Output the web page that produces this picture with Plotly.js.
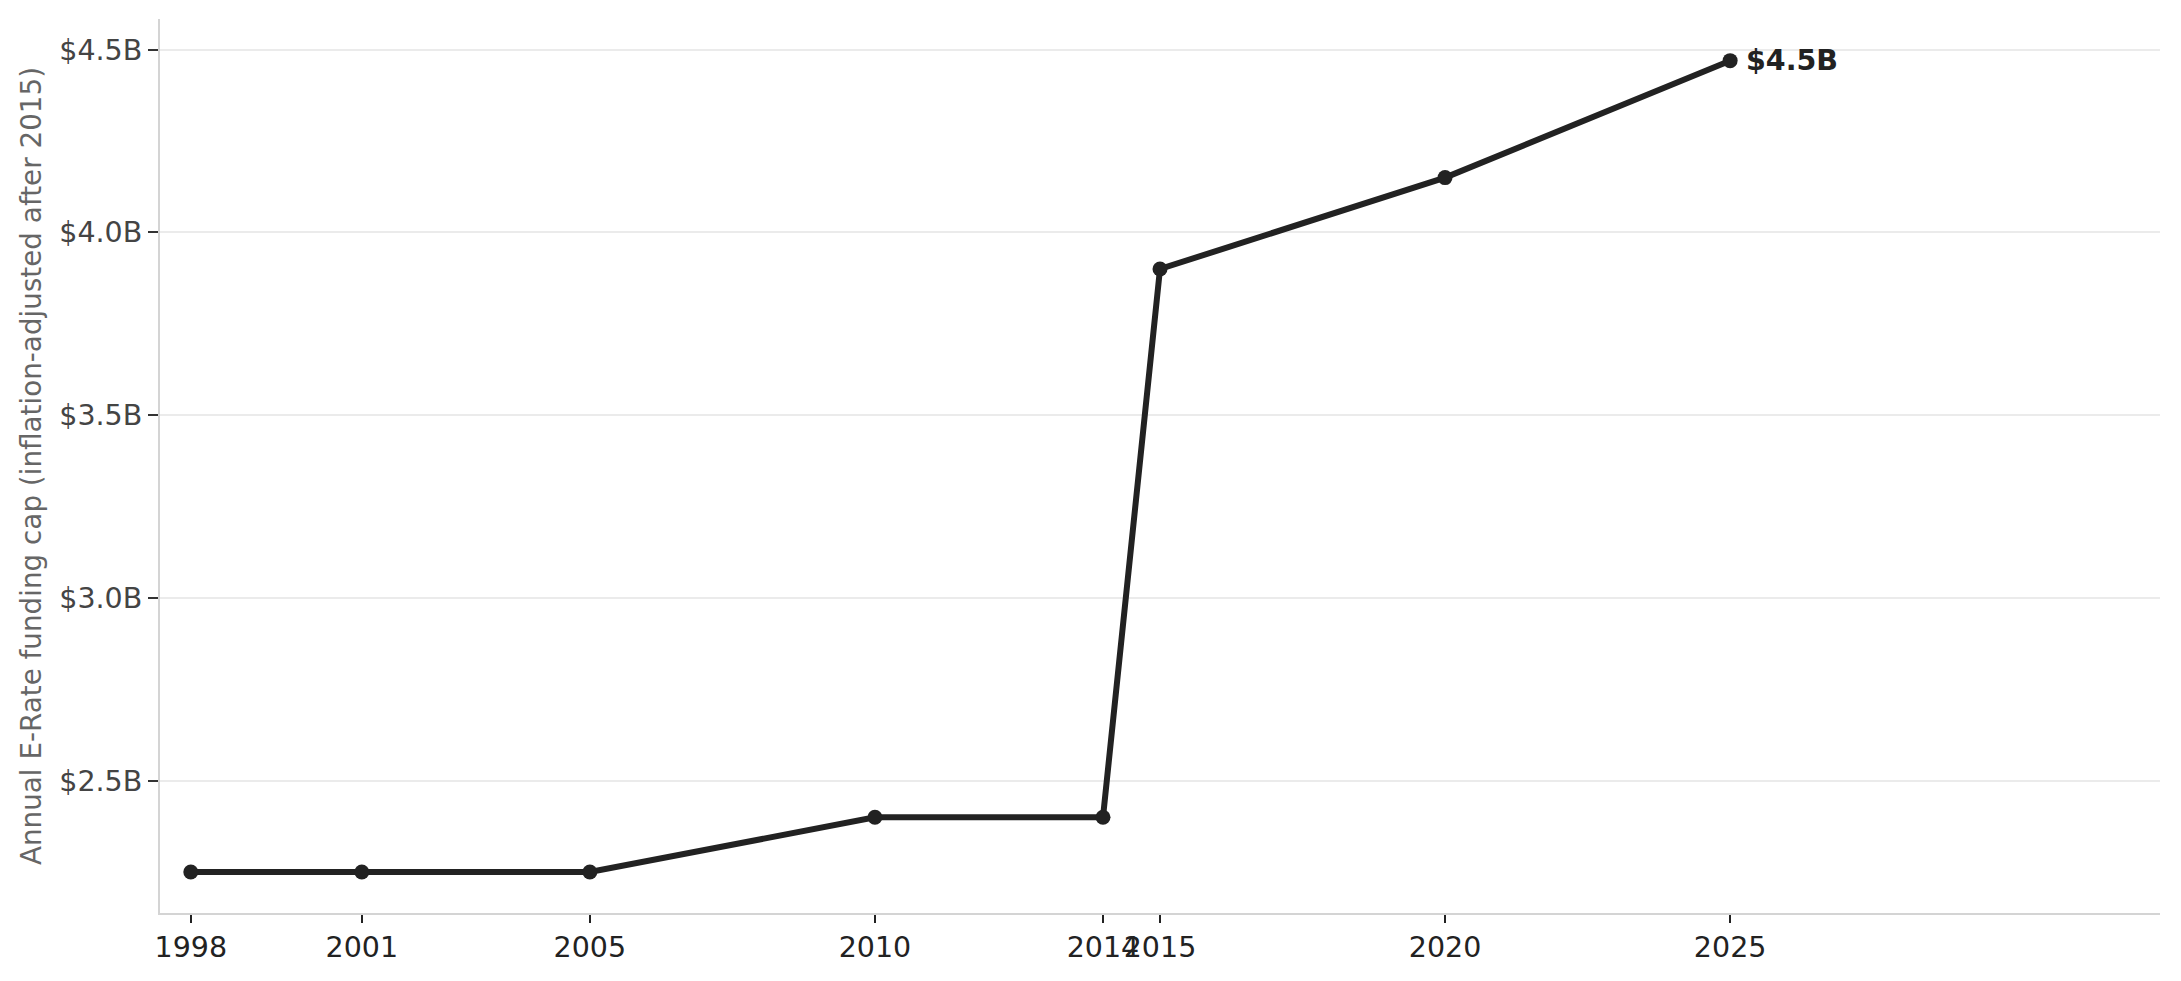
<!DOCTYPE html>
<html>
<head>
<meta charset="utf-8">
<script src="https://cdn.plot.ly/plotly-3.0.1.min.js"></script>
<style>
  html, body { margin: 0; padding: 0; background: #fff; }
  #chart { width: 2181px; height: 981px; }
</style>
</head>
<body>
<div id="chart"></div>
<script>
// E-Rate annual cap, billions of dollars
var years = [1998, 2001, 2005, 2010, 2014, 2015, 2020, 2025];
var capBillions = [2.25, 2.25, 2.25, 2.40, 2.40, 3.90, 4.15, 4.47];
var yTickVals = [2.5, 3.0, 3.5, 4.0, 4.5];
var yTickText = ["$2.5B", "$3.0B", "$3.5B", "$4.0B", "$4.5B"];
var lastLabel = "$4.5B";

var trace = {
  x: years,
  y: capBillions,
  type: "scatter",
  mode: "lines+markers",
  line: { color: "#222222", width: 6 },
  marker: { color: "#222222", size: 15 },
  hoverinfo: "x+y"
};

var layout = {
  width: 2181,
  height: 981,
  margin: { l: 160, r: 21, t: 19, b: 68 },
  paper_bgcolor: "#ffffff",
  plot_bgcolor: "#ffffff",
  font: { family: "DejaVu Sans", size: 28.5, color: "#333333" },
  showlegend: false,
  xaxis: {
    range: [1997.46, 2032.54],
    tickmode: "array",
    tickvals: years,
    ticktext: years.map(String),
    tickangle: 0,
    showgrid: false,
    zeroline: false,
    showline: true,
    linecolor: "#d4d4d4",
    linewidth: 2,
    ticks: "outside",
    ticklen: 8,
    tickwidth: 2,
    tickcolor: "#222222",
    tickfont: { size: 28.5, color: "#222222" }
  },
  yaxis: {
    range: [2.138, 4.584],
    tickmode: "array",
    tickvals: yTickVals,
    ticktext: yTickText,
    showgrid: true,
    gridcolor: "#ebebeb",
    gridwidth: 2,
    zeroline: false,
    showline: true,
    linecolor: "#d4d4d4",
    linewidth: 2,
    ticks: "outside",
    ticklen: 10,
    tickwidth: 2,
    tickcolor: "#333333",
    tickfont: { size: 28.5, color: "#444444" },
    title: {
      text: "Annual E-Rate funding cap (inflation-adjusted after 2015)",
      font: { size: 27.8, color: "#666666" },
      standoff: 10
    }
  },
  annotations: [{
    x: years[years.length - 1],
    y: capBillions[capBillions.length - 1],
    text: "<b>" + lastLabel + "</b>",
    showarrow: false,
    xanchor: "left",
    yanchor: "middle",
    xshift: 14,
    font: { size: 28.5, color: "#222222" }
  }]
};

Plotly.newPlot("chart", [trace], layout, { displayModeBar: false, staticPlot: true });
</script>
</body>
</html>
